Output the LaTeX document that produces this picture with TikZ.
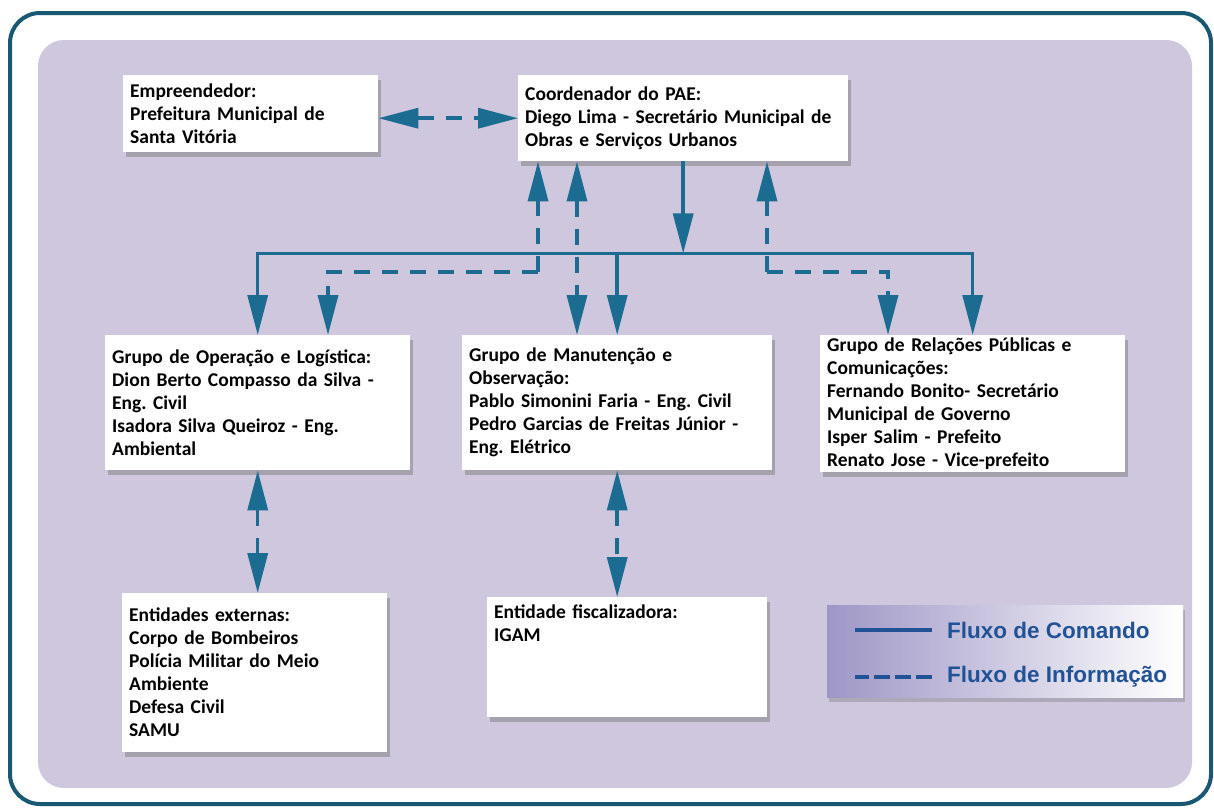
\documentclass[tikz,border=0pt]{standalone}
\usepackage{fontspec}
\setmainfont{Carlito}
\newfontfamily\legendfont{Liberation Sans}
\usetikzlibrary{arrows.meta,calc,positioning,shadows}
\definecolor{flow}{RGB}{28,108,145}
\definecolor{panel}{RGB}{207,199,221}
\definecolor{framecol}{RGB}{25,88,115}
\definecolor{legendtxt}{RGB}{33,82,150}
\definecolor{legendbg}{RGB}{158,150,198}
\frenchspacing

\begin{document}
\begin{tikzpicture}[x=1pt,y=-1pt,>={Triangle[length=40pt,width=20pt]}]
    \tikzset{
      orgbox/.style={fill=white, anchor=north west, align=left, inner xsep=7pt, inner ysep=4pt,
        font=\bfseries\fontsize{19.5}{23}\selectfont,
        drop shadow={shadow xshift=3pt, shadow yshift=-5pt, opacity=.45, fill=black!55}},
      cmd/.style={->, flow, line width=3.5pt},
      info/.style={->, flow, line width=3.5pt, dash pattern=on 16pt off 12pt},
      legtext/.style={anchor=west, inner sep=0pt, text=legendtxt, font=\legendfont\bfseries\fontsize{22.5}{26}\selectfont},
      legline/.style={legendtxt, line width=3.5pt}
    }
    \useasboundingbox (0,0) rectangle (1214,807);
    \fill[white] (0,0) rectangle (1214,807);
    \draw[framecol, line width=4pt, rounded corners=30pt] (10,13) rectangle (1211,804);
    \fill[panel, rounded corners=26pt] (38,40) rectangle (1192,788);

    \node[orgbox, minimum width=255pt, minimum height=77pt, text width=241pt] (emp) at (123,75)
      {Empreendedor:\\Prefeitura Municipal de\\Santa Vitória};
    \node[orgbox, minimum width=330pt, minimum height=86pt, text width=316pt] (coord) at (518,75)
      {Coordenador do PAE:\\Diego Lima - Secretário Municipal de\\Obras e Serviços Urbanos};
    \node[orgbox, minimum width=305pt, minimum height=135pt, text width=291pt] (oper) at (105,335)
      {Grupo de Operação e Logística:\\Dion Berto Compasso da Silva -\\Eng. Civil\\Isadora Silva Queiroz - Eng.\\Ambiental};
    \node[orgbox, minimum width=310pt, minimum height=135pt, text width=296pt] (manut) at (462,335)
      {Grupo de Manutenção e\\Observação:\\Pablo Simonini Faria - Eng. Civil\\Pedro Garcias de Freitas Júnior -\\Eng. Elétrico};
    \node[orgbox, minimum width=305pt, minimum height=137pt, text width=291pt, inner ysep=0pt] (relac) at (820,335)
      {Grupo de Relações Públicas e\\Comunicações:\\Fernando Bonito- Secretário\\Municipal de Governo\\Isper Salim - Prefeito\\Renato Jose - Vice-prefeito};
    \node[orgbox, minimum width=265pt, minimum height=159pt, text width=251pt] (entext) at (122,593)
      {Entidades externas:\\Corpo de Bombeiros\\Polícia Militar do Meio\\Ambiente\\Defesa Civil\\SAMU};
    \node[orgbox, minimum width=280pt, minimum height=120pt, text width=266pt] (fisc) at (487,597)
      {Entidade fiscalizadora:\\IGAM\\[45pt]~};

    % fluxo de comando
    \coordinate (bus) at ($(coord.south)+(0,92)$);
    \draw[cmd] (coord.south) -- (bus);
    \draw[cmd] (bus) -| (oper.north);
    \draw[cmd] (bus) -| (relac.north);
    \draw[cmd] (bus -| manut.north) -- (manut.north);

    % fluxo de informacao
    \draw[info, <->] (coord.west -| emp.east) -- (coord.west);
    \coordinate (opinfo) at (538,272);
    \coordinate (opdrop) at (328,272);
    \draw[info] (opinfo) -- (opinfo |- coord.south);
    \draw[info] (opinfo) -- (opdrop) -- (opdrop |- oper.north);
    \coordinate (mninfo) at (577,272);
    \draw[info, <->] (mninfo |- coord.south) -- (mninfo |- manut.north);
    \coordinate (rlinfo) at (767,272);
    \coordinate (rldrop) at (888,272);
    \draw[info] (rlinfo) -- (rlinfo |- coord.south);
    \draw[info] (rlinfo) -- (rldrop) -- (rldrop |- relac.north);
    \draw[info, <->] (oper.south) -- (oper.south |- entext.north);
    \draw[info, <->] (manut.south) -- (manut.south |- fisc.north);

    % legenda
    \shade[left color=legendbg, right color=white,
      drop shadow={shadow xshift=2pt, shadow yshift=-5pt, opacity=.35, fill=black!55}]
      (827,605) rectangle (1183,697);
    \node[legtext] (lgcmd) at (947,630) {Fluxo de Comando};
    \node[legtext] (lginfo) at (947,677) {Fluxo de Informação};
    \draw[legline] ([xshift=-15pt]lgcmd.west) -- ++(-77,0);
    \draw[legline, dash pattern=on 16pt off 5pt] ([xshift=-15pt]lginfo.west) -- ++(-77,0);
  \end{tikzpicture}
\end{document}
